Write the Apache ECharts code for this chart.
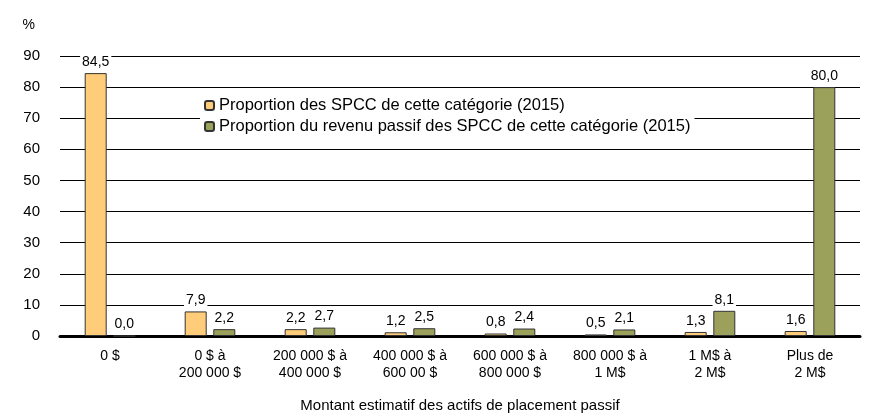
<!DOCTYPE html><html><head><meta charset="utf-8"><script src="https://cdn.jsdelivr.net/npm/echarts@6/dist/echarts.min.js"></script></head><body style="margin:0"><div id="c" style="width:871px;height:418px"></div><script>
const categories=["0 $","0 $ à\n200 000 $","200 000 $ à\n400 000 $","400 000 $ à\n600 00 $","600 000 $ à\n800 000 $","800 000 $ à\n1 M$","1 M$ à\n2 M$","Plus de\n2 M$"];
const share=[84.5,7.9,2.2,1.2,0.8,0.5,1.3,1.6];
const income=[0.0,2.2,2.7,2.5,2.4,2.1,8.1,80.0];
const yTicks=[0,10,20,30,40,50,60,70,80,90];
const f='Liberation Sans';
const lbl={show:true,position:'top',distance:3,color:'#000',fontFamily:f,fontSize:14,backgroundColor:'#fff',padding:[1,2],formatter:p=>p.value.toFixed(1).replace('.',',')};
const ch=echarts.init(document.getElementById('c'));
ch.setOption({animation:false,textStyle:{fontFamily:f},
grid:{left:60,right:11,top:56,bottom:71},
legend:{left:200,top:95,orient:'vertical',itemWidth:9,itemHeight:9,itemGap:4,backgroundColor:'#fff',padding:[2,4],textStyle:{fontFamily:f,fontSize:16.5,color:'#000'},data:['Proportion des SPCC de cette catégorie (2015)','Proportion du revenu passif des SPCC de cette catégorie (2015)']},
xAxis:{type:'category',data:categories,name:'Montant estimatif des actifs de placement passif',nameLocation:'middle',nameGap:62,nameTextStyle:{fontSize:15,color:'#000'},axisTick:{show:false},axisLine:{lineStyle:{color:'#000',width:3}},axisLabel:{color:'#000',fontSize:14,lineHeight:17,margin:12,interval:0}},
yAxis:{type:'value',min:0,max:90,interval:10,name:'%',nameLocation:'end',nameGap:24,nameTextStyle:{fontSize:14,color:'#000',align:'right',padding:[0,25,0,0]},axisLabel:{color:'#000',fontSize:15,margin:20,formatter:v=>yTicks.includes(v)?String(v):''},axisLine:{show:false},splitLine:{lineStyle:{color:'#000',width:1}}},
series:[{name:'Proportion des SPCC de cette catégorie (2015)',type:'bar',data:share,barWidth:22,barGap:'30%',itemStyle:{color:'#FFCC7A',borderColor:'#333',borderWidth:1},label:lbl},
{name:'Proportion du revenu passif des SPCC de cette catégorie (2015)',type:'bar',data:income,barWidth:22,itemStyle:{color:'#9BA15A',borderColor:'#333',borderWidth:1},label:lbl}]});
</script></body></html>
